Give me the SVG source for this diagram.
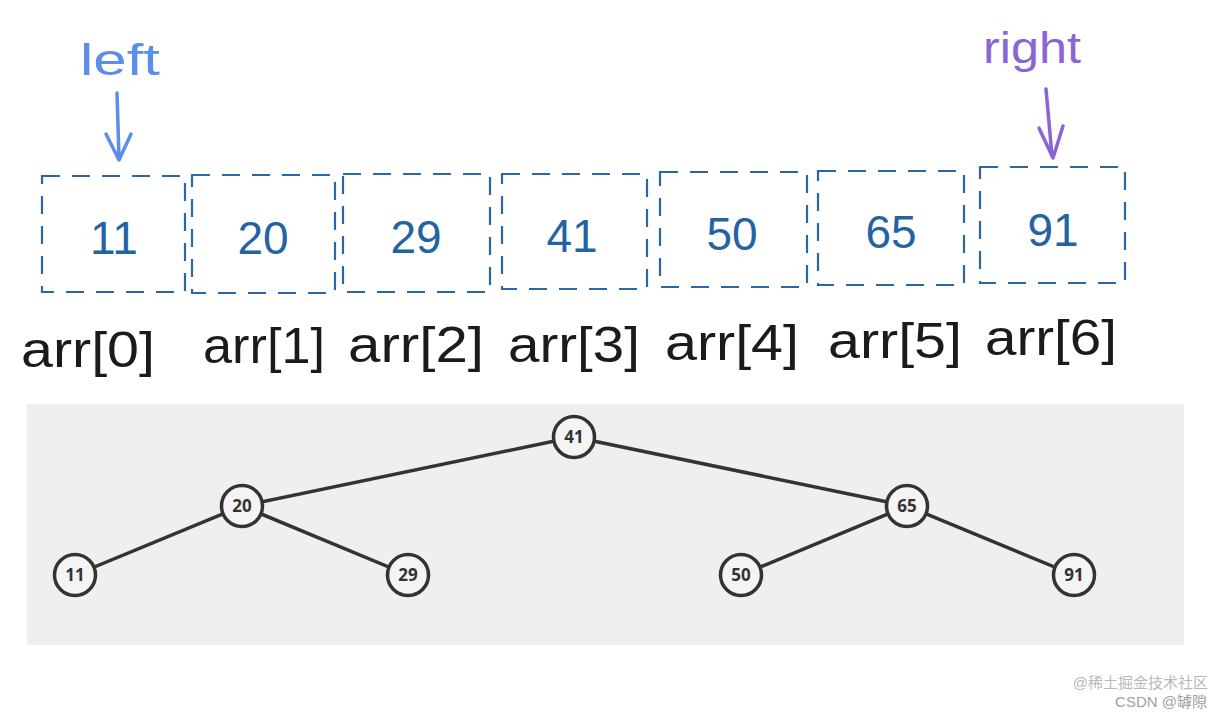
<svg xmlns="http://www.w3.org/2000/svg" width="1231" height="716" viewBox="0 0 1231 716">
<style>
.box{fill:none;stroke:#2a67a6;stroke-width:2.2;stroke-dasharray:18 12}
.num{font-family:"Liberation Sans",sans-serif;font-size:46px;fill:#2363a3;text-anchor:middle}
.idx{font-family:"Liberation Sans",sans-serif;font-size:50px;fill:#1b1b1b;text-anchor:middle}
.edge{stroke:#333;stroke-width:3.5;fill:none}
.node circle{fill:#f4f4f4;stroke:#333;stroke-width:3.5}
.node text{font-family:"Open Sans","DejaVu Sans",sans-serif;font-weight:bold;font-size:17px;fill:#333;text-anchor:middle}
.wm{font-family:"Liberation Sans","Noto Sans CJK SC",sans-serif;font-size:15px;text-anchor:end}
</style>
<rect x="0" y="0" width="1231" height="716" fill="#ffffff"/>
<g id="pointers">
<text x="120" y="75" font-family="Liberation Sans,sans-serif" font-size="44" fill="#5b8dea" text-anchor="middle" textLength="80" lengthAdjust="spacingAndGlyphs">left</text>
<path d="M117 93 L119 158 M106 134 L119 160 L131 134" fill="none" stroke="#5b8dea" stroke-width="3.5" stroke-linecap="round" stroke-linejoin="round"/>
<text x="1032" y="63" font-family="Liberation Sans,sans-serif" font-size="44" fill="#8b65d6" text-anchor="middle" textLength="98" lengthAdjust="spacingAndGlyphs">right</text>
<path d="M1046 89 L1052 156 M1039 128 L1053 158 L1063 126" fill="none" stroke="#8b65d6" stroke-width="3.5" stroke-linecap="round" stroke-linejoin="round"/>
</g>
<g id="array">
<g id="cell0"><rect class="box" x="42" y="176" width="143" height="116"/><text class="num" x="114" y="254">11</text><text class="idx" x="88" y="367" textLength="134" lengthAdjust="spacingAndGlyphs">arr[0]</text></g>
<g id="cell1"><rect class="box" x="192" y="175" width="143" height="118"/><text class="num" x="263" y="254">20</text><text class="idx" x="264" y="363" textLength="122" lengthAdjust="spacingAndGlyphs">arr[1]</text></g>
<g id="cell2"><rect class="box" x="343" y="174" width="147" height="118"/><text class="num" x="416" y="253">29</text><text class="idx" x="416" y="362" textLength="136" lengthAdjust="spacingAndGlyphs">arr[2]</text></g>
<g id="cell3"><rect class="box" x="502" y="174" width="145" height="115"/><text class="num" x="572" y="252">41</text><text class="idx" x="574" y="362" textLength="132" lengthAdjust="spacingAndGlyphs">arr[3]</text></g>
<g id="cell4"><rect class="box" x="660" y="172" width="147" height="115"/><text class="num" x="732" y="250">50</text><text class="idx" x="732" y="360" textLength="134" lengthAdjust="spacingAndGlyphs">arr[4]</text></g>
<g id="cell5"><rect class="box" x="818" y="171" width="146" height="114"/><text class="num" x="891" y="248">65</text><text class="idx" x="895" y="358" textLength="134" lengthAdjust="spacingAndGlyphs">arr[5]</text></g>
<g id="cell6"><rect class="box" x="980" y="167" width="145" height="116"/><text class="num" x="1053" y="246">91</text><text class="idx" x="1051" y="355" textLength="132" lengthAdjust="spacingAndGlyphs">arr[6]</text></g>
</g>
<rect id="panel" x="27" y="404" width="1157" height="241" fill="#efefef"/>
<g id="connectors">
<line class="edge" x1="574" y1="437" x2="242" y2="506"/>
<line class="edge" x1="574" y1="437" x2="907" y2="506"/>
<line class="edge" x1="242" y1="506" x2="75" y2="575"/>
<line class="edge" x1="242" y1="506" x2="408" y2="575"/>
<line class="edge" x1="907" y1="506" x2="741" y2="575"/>
<line class="edge" x1="907" y1="506" x2="1074" y2="575"/>
</g>
<g id="n41" class="node"><circle cx="574" cy="437" r="20.5"/><text x="574" y="443">41</text></g>
<g id="n20" class="node"><circle cx="242" cy="506" r="20.5"/><text x="242" y="512">20</text></g>
<g id="n65" class="node"><circle cx="907" cy="506" r="20.5"/><text x="907" y="512">65</text></g>
<g id="n11" class="node"><circle cx="75" cy="575" r="20.5"/><text x="75" y="581">11</text></g>
<g id="n29" class="node"><circle cx="408" cy="575" r="20.5"/><text x="408" y="581">29</text></g>
<g id="n50" class="node"><circle cx="741" cy="575" r="20.5"/><text x="741" y="581">50</text></g>
<g id="n91" class="node"><circle cx="1074" cy="575" r="20.5"/><text x="1074" y="581">91</text></g>
<g id="watermark">
<text class="wm" x="1208" y="688" fill="#b8b8b8">@稀土掘金技术社区</text>
<text class="wm" x="1207" y="707" fill="#a0a0a0">CSDN @罅隙</text>
</g>
</svg>
